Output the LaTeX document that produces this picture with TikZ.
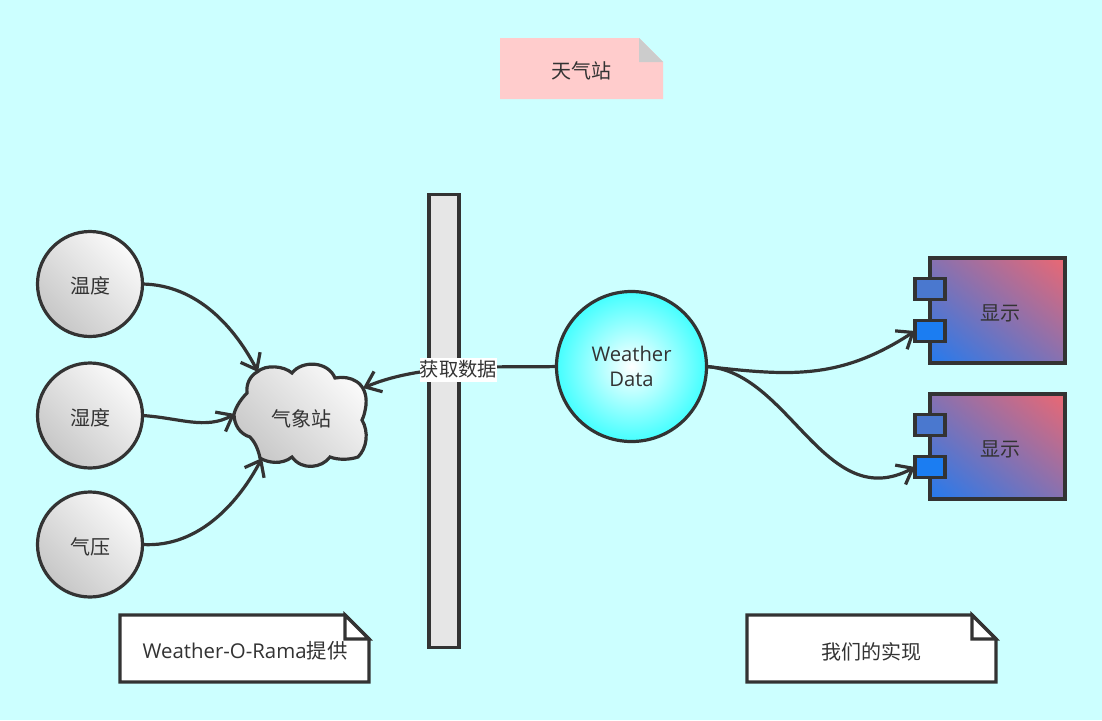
\documentclass[tikz,border=0pt]{standalone}
\usepackage{fontspec}
\setmainfont{Open Sans}
\newfontfamily\cjk{Noto Sans CJK SC}
\usetikzlibrary{arrows.meta,shapes.geometric}
\definecolor{ink}{HTML}{333333}
\definecolor{bgc}{HTML}{CCFFFF}
\definecolor{blue1}{HTML}{107CFA}
\definecolor{red1}{HTML}{FF6666}
\definecolor{port1}{HTML}{4A78CF}
\definecolor{port2}{HTML}{1B7DF2}
\pgfdeclarehorizontalshading{compgrad}{100bp}{color(0bp)=(blue1); color(8bp)=(blue1); color(92bp)=(red1); color(100bp)=(red1)}
\tikzset{
  cjktext/.style={text=ink,font=\cjk\fontsize{20}{22}\selectfont,inner sep=0pt},
  sensor/.style={circle,draw=ink,line width=3.2pt,minimum size=105pt,inner sep=0pt,outer sep=0pt,
    left color=white!78!black,right color=white!98!black,shading angle=135},
  conn/.style={draw=ink,line width=3.2pt,-{Straight Barb[length=14pt,width=22pt,line width=3.2pt]}},
  shell/.style={draw=ink,line width=3.2pt,line join=miter},
  compbody/.style={rectangle,draw=ink,line width=3.2pt,minimum width=135pt,minimum height=105pt,inner sep=0pt,outer sep=0pt,
    shading=compgrad,shading angle=52},
  porta/.style={rectangle,draw=ink,line width=3.2pt,minimum width=30pt,minimum height=21pt,inner sep=0pt,outer sep=0pt,fill=port1},
  portb/.style={rectangle,draw=ink,line width=3.2pt,minimum width=30pt,minimum height=21pt,inner sep=0pt,outer sep=0pt,fill=port2},
}
\begin{document}
\begin{tikzpicture}[x=1pt,y=-1pt]
\useasboundingbox (0,0) rectangle (1102,720);
\fill[bgc] (0,0) rectangle (1102,720);

% title note
\fill[fill={rgb,255:red,255;green,204;blue,204}] (500,38) -- (639,38) -- (663,62) -- (663,99) -- (500,99) -- cycle;
\fill[fill={rgb,255:red,204;green,204;blue,204}] (639,38) -- (663,62) -- (639,62) -- cycle;
\node[cjktext] (title) at (581.5,70.5) {天气站};

% bar
\node[rectangle,draw=ink,line width=3.2pt,fill={rgb,255:red,230;green,230;blue,230},minimum width=30pt,minimum height=453pt,inner sep=0pt,outer sep=0pt] (bar) at (444,421.3) {};

% sensors
\node[sensor] (temp) at (90,284) {};
\node[sensor] (hum) at (90,415.5) {};
\node[sensor] (pres) at (90,544.5) {};
\node[cjktext] (temptxt) at (90,286) {温度};
\node[cjktext] (humtxt) at (90,417.5) {湿度};
\node[cjktext] (prestxt) at (90,547) {气压};

% cloud
\path[draw=ink,line width=3.2pt,left color=white!78!black,right color=white!98!black,shading angle=135]
 (257,372) .. controls (266,364) and (284,366) .. (292,373)
 .. controls (302,360) and (328,361) .. (335,378)
 .. controls (350,375) and (368,382) .. (366,405)
 .. controls (365,412) and (364,416) .. (362,420)
 .. controls (369,432) and (367,448) .. (358,457)
 .. controls (349,460) and (338,460) .. (330,457)
 .. controls (322,468) and (302,471) .. (292,457)
 .. controls (282,465) and (268,463) .. (260,458)
 .. controls (258,448) and (254,441) .. (250,437)
 .. controls (240,434) and (234,425) .. (234,414)
 .. controls (236,406) and (242,398) .. (247,393)
 .. controls (246,384) and (250,376) .. (257,372) -- cycle;
\node[cjktext] (station) at (301.5,419) {气象站};
\coordinate (cloudtop) at (258,372);
\coordinate (cloudleft) at (235,414);
\coordinate (cloudbot) at (262,458);
\coordinate (cloudright) at (363,388);

% weather data
\node[circle,draw=ink,line width=3.2pt,minimum size=150pt,inner sep=0pt,outer sep=0pt,
  inner color=white,outer color={rgb,255:red,68;green,255;blue,255},align=center,text=ink,font=\fontsize{20.2}{25.5}\selectfont] (wd) at (631.5,366.5) {Weather\\Data};

% displays
\foreach \n/\yy in {a/310.5,b/446.5}{
  \node[compbody] (disp\n) at (997.5,\yy) {};
  \node[cjktext] (txt\n) at (1000,\yy+3) {显示};
  \node[porta] (p1\n) at (930,\yy-21.5) {};
  \node[portb] (p2\n) at (930,\yy+20.5) {};
}

% connectors
\draw[conn] (temp.east) .. controls (198,285) and (235,328) .. (cloudtop);
\draw[conn] (hum.east) .. controls (180,418) and (205,430) .. (cloudleft);
\draw[conn] (pres.east) .. controls (200,548) and (240,500) .. (cloudbot);
\draw[conn] (wd.west) .. controls (500,368) and (425,362) .. (cloudright);
\draw[conn] (wd.east) .. controls (790,376) and (840,380) .. (p2a.west);
\draw[conn] (wd.east) .. controls (790,372) and (825,515) .. (p2b.west);

\node[fill=white,text=ink,font=\cjk\fontsize{19.3}{22}\selectfont,inner sep=0pt,minimum height=24pt] (getdata) at (458.5,369.5) {获取数据};

% notes
\path[shell,fill=white] (120,615) -- (345,615) -- (369,639) -- (369,682) -- (120,682) -- cycle;
\draw[shell,fill=white] (345,615) -- (345,639) -- (369,639) -- cycle;
\node[text=ink,font=\fontsize{20.4}{22}\selectfont,inner sep=0pt] (n1) at (245,651) {Weather-O-Rama{\cjk 提供}};
\path[shell,fill=white] (747,615) -- (972,615) -- (996,639) -- (996,682) -- (747,682) -- cycle;
\draw[shell,fill=white] (972,615) -- (972,639) -- (996,639) -- cycle;
\node[cjktext] (n2) at (871.5,651.5) {我们的实现};
\end{tikzpicture}
\end{document}
